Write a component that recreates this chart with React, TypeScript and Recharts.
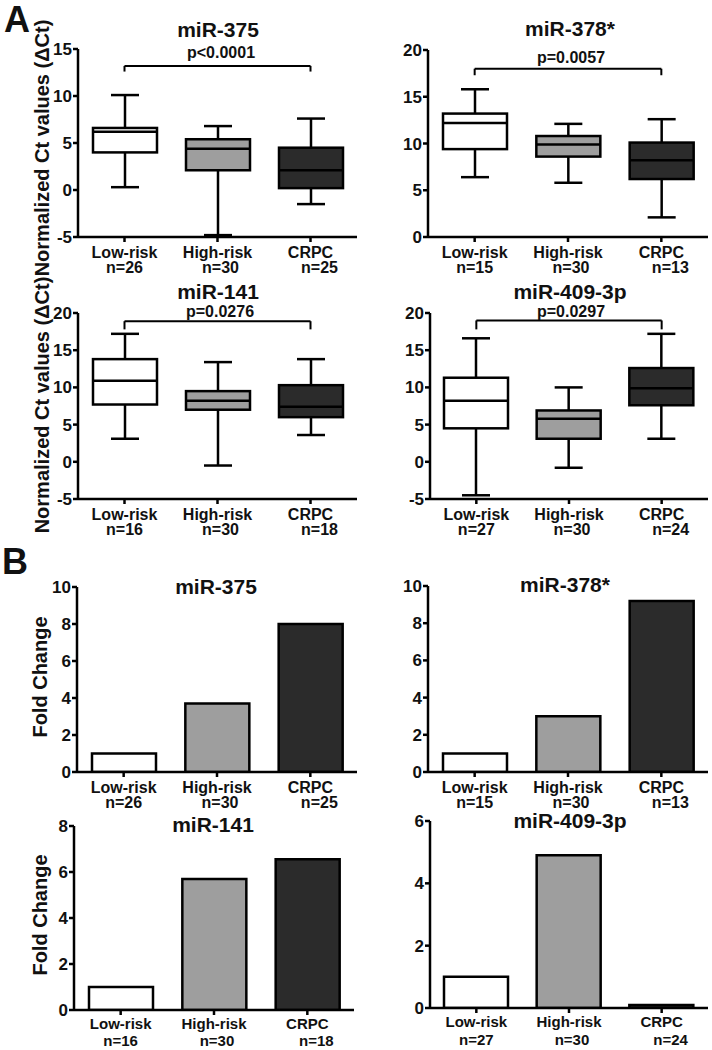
import React from 'react';
import { ComposedChart, BarChart, Bar, XAxis, YAxis, ReferenceLine, Cell } from 'recharts';

const categories = ['Low-risk', 'High-risk', 'CRPC'];
const fills = ['#ffffff', '#9e9e9e', '#2b2b2b'];

// Panel A: box plots (normalized Ct values)
const n375 = ['n=26', 'n=30', 'n=25'];
const min375 = [0.3, -4.8, -1.5];
const q1375 = [4.0, 2.1, 0.2];
const med375 = [6.2, 4.4, 2.1];
const q3375 = [6.6, 5.4, 4.5];
const max375 = [10.1, 6.8, 7.6];

const n378 = ['n=15', 'n=30', 'n=13'];
const min378 = [6.4, 5.8, 2.1];
const q1378 = [9.4, 8.6, 6.2];
const med378 = [12.2, 9.9, 8.2];
const q3378 = [13.2, 10.8, 10.1];
const max378 = [15.8, 12.1, 12.6];

const n141 = ['n=16', 'n=30', 'n=18'];
const min141 = [3.1, -0.5, 3.6];
const q1141 = [7.7, 7.0, 6.0];
const med141 = [10.9, 8.2, 7.4];
const q3141 = [13.8, 9.5, 10.3];
const max141 = [17.2, 13.4, 13.8];

const n409 = ['n=27', 'n=30', 'n=24'];
const min409 = [-4.5, -0.8, 3.1];
const q1409 = [4.5, 3.1, 7.6];
const med409 = [8.2, 5.8, 9.9];
const q3409 = [11.3, 6.9, 12.6];
const max409 = [16.6, 10.0, 17.2];

// Panel B: fold change bars
const fold375 = [1.0, 3.7, 8.0];
const fold378 = [1.0, 3.0, 9.2];
const fold141 = [1.0, 5.7, 6.55];
const fold409 = [1.0, 4.9, 0.1];

const FONT = '"Liberation Sans", Arial, sans-serif';

const buildBox = (mn: number[], q1: number[], md: number[], q3: number[], mx: number[]) =>
  categories.map((c, i) => ({
    cat: c,
    min: mn[i],
    q1: q1[i],
    median: md[i],
    q3: q3[i],
    max: mx[i],
    range: [mn[i], mx[i]],
    fill: fills[i],
  }));

const buildBars = (vals: number[]) => categories.map((c, i) => ({ cat: c, fold: vals[i] }));

const BoxShape = (props: any) => {
  const { x, y, width, height, payload } = props;
  if (!payload) return null;
  const top = Math.min(y, y + height);
  const bottom = Math.max(y, y + height);
  const span = payload.max - payload.min;
  const Y = (v: number) => bottom - ((v - payload.min) / span) * (bottom - top);
  const cx = x + width / 2;
  const cap = 28;
  const sw = 2.5;
  return (
    <g>
      <line x1={cx} x2={cx} y1={Y(payload.max)} y2={Y(payload.q3)} stroke="#000" strokeWidth={sw} />
      <line x1={cx} x2={cx} y1={Y(payload.q1)} y2={Y(payload.min)} stroke="#000" strokeWidth={sw} />
      <line x1={cx - cap / 2} x2={cx + cap / 2} y1={Y(payload.max)} y2={Y(payload.max)} stroke="#000" strokeWidth={sw} />
      <line x1={cx - cap / 2} x2={cx + cap / 2} y1={Y(payload.min)} y2={Y(payload.min)} stroke="#000" strokeWidth={sw} />
      <rect x={x} y={Y(payload.q3)} width={width} height={Y(payload.q1) - Y(payload.q3)} fill={payload.fill} stroke="#000" strokeWidth={sw} />
      <line x1={x} x2={x + width} y1={Y(payload.median)} y2={Y(payload.median)} stroke="#000" strokeWidth={sw} />
    </g>
  );
};

const makeTick = (nLabels: string[], first: number, second: number, size: number) => (props: any) => {
  const { x, y, payload } = props;
  const idx = props.index ?? payload?.index ?? 0;
  return (
    <g>
      <text x={x} y={y + first} textAnchor="middle" dominantBaseline="central" fontFamily={FONT} fontWeight="bold" fontSize={size} fill="#111">
        {payload.value}
      </text>
      <text x={x + (idx === 2 ? 9 : idx === 1 ? 3 : 0)} y={y + second} textAnchor="middle" dominantBaseline="central" fontFamily={FONT} fontWeight="bold" fontSize={size} fill="#111">
        {nLabels[idx]}
      </text>
    </g>
  );
};

const yTickStyle = { fontFamily: FONT, fontWeight: 'bold', fontSize: 17, fill: '#111' } as any;
const axisLine = { stroke: '#000', strokeWidth: 2.5 };

type Frame = { left: number; plotLeft: number; plotRight: number; plotTop: number; plotBottom: number; xh?: number };

const frameStyle = (f: Frame) => {
  const top = f.plotTop - 10;
  const xh = f.xh ?? 40;
  return {
    style: { position: 'absolute' as const, left: f.left, top },
    width: f.plotRight - f.left + 4,
    height: f.plotBottom - top + xh,
    xh,
    margin: { top: 10, right: 4, bottom: 0, left: 0 },
    yWidth: f.plotLeft - f.left,
  };
};

const BoxPanel = (p: { f: Frame; data: any[]; domain: [number, number]; ticks: number[]; n: string[]; bracketY: number; dropY: number }) => {
  const fs = frameStyle(p.f);
  return (
    <div style={fs.style}>
      <ComposedChart width={fs.width} height={fs.height} data={p.data} margin={fs.margin} style={{ overflow: 'visible' }}>
        <XAxis dataKey="cat" axisLine={axisLine} tickLine={axisLine} tickSize={5} height={fs.xh} interval={0} tick={makeTick(p.n, 8.5, 23.5, 16)} />
        <YAxis type="number" domain={p.domain} ticks={p.ticks} interval={0} width={fs.yWidth} axisLine={axisLine} tickLine={axisLine} tickSize={5} tickMargin={1} tick={yTickStyle} allowDataOverflow />
        <Bar dataKey="range" barSize={64} shape={(sp: any) => <BoxShape {...sp} />} isAnimationActive={false} />
        <ReferenceLine segment={[{ x: categories[0], y: p.bracketY }, { x: categories[2], y: p.bracketY }]} stroke="#000" strokeWidth={2} ifOverflow="visible" />
        <ReferenceLine segment={[{ x: categories[0], y: p.bracketY }, { x: categories[0], y: p.dropY }]} stroke="#000" strokeWidth={2} ifOverflow="visible" />
        <ReferenceLine segment={[{ x: categories[2], y: p.bracketY }, { x: categories[2], y: p.dropY }]} stroke="#000" strokeWidth={2} ifOverflow="visible" />
      </ComposedChart>
    </div>
  );
};

const BarPanel = (p: { f: Frame; data: any[]; domain: [number, number]; ticks: number[]; n: string[]; first?: number; second?: number; size?: number }) => {
  const fs = frameStyle(p.f);
  return (
    <div style={fs.style}>
      <BarChart width={fs.width} height={fs.height} data={p.data} margin={fs.margin} style={{ overflow: 'visible' }}>
        <XAxis dataKey="cat" axisLine={axisLine} tickLine={axisLine} tickSize={5} height={fs.xh} interval={0} tick={makeTick(p.n, p.first ?? 8.5, p.second ?? 23.5, p.size ?? 16)} />
        <YAxis type="number" domain={p.domain} ticks={p.ticks} interval={0} width={fs.yWidth} axisLine={axisLine} tickLine={axisLine} tickSize={5} tickMargin={1} tick={yTickStyle} allowDataOverflow />
        <Bar dataKey="fold" barSize={64} stroke="#000" strokeWidth={2.5} isAnimationActive={false}>
          {p.data.map((_, i) => (
            <Cell key={i} fill={fills[i]} />
          ))}
        </Bar>
      </BarChart>
    </div>
  );
};

const Txt = (p: { cx: number; cy: number; size: number; text: string; rotate?: boolean; lh?: number }) => {
  const w = 320;
  const h = p.size * (p.lh ?? 1.4);
  return (
    <div
      style={{
        position: 'absolute',
        left: p.cx - w / 2,
        top: p.cy - h / 2,
        width: w,
        height: h,
        lineHeight: `${h}px`,
        textAlign: 'center',
        fontSize: p.size,
        fontWeight: 'bold',
        fontFamily: FONT,
        color: '#111',
        whiteSpace: 'nowrap',
        transform: p.rotate ? 'rotate(-90deg)' : undefined,
        pointerEvents: 'none',
      }}
    >
      {p.text}
    </div>
  );
};

export default function App() {
  return (
    <div style={{ position: 'absolute', left: 0, top: 0, width: 712, height: 1050, background: '#fff', overflow: 'hidden' }}>
      <BoxPanel f={{ left: 0, plotLeft: 78, plotRight: 357, plotTop: 49, plotBottom: 237 }} data={buildBox(min375, q1375, med375, q3375, max375)} domain={[-5, 15]} ticks={[-5, 0, 5, 10, 15]} n={n375} bracketY={13.2} dropY={12.6} />
      <BoxPanel f={{ left: 360, plotLeft: 428, plotRight: 708, plotTop: 50, plotBottom: 237 }} data={buildBox(min378, q1378, med378, q3378, max378)} domain={[0, 20]} ticks={[0, 5, 10, 15, 20]} n={n378} bracketY={18.0} dropY={17.3} />
      <BoxPanel f={{ left: 0, plotLeft: 78, plotRight: 357, plotTop: 313, plotBottom: 499 }} data={buildBox(min141, q1141, med141, q3141, max141)} domain={[-5, 20]} ticks={[-5, 0, 5, 10, 15, 20]} n={n141} bracketY={18.9} dropY={17.8} />
      <BoxPanel f={{ left: 360, plotLeft: 430, plotRight: 708, plotTop: 313, plotBottom: 499 }} data={buildBox(min409, q1409, med409, q3409, max409)} domain={[-5, 20]} ticks={[-5, 0, 5, 10, 15, 20]} n={n409} bracketY={19.0} dropY={17.8} />

      <BarPanel f={{ left: 0, plotLeft: 77, plotRight: 357, plotTop: 587, plotBottom: 772 }} data={buildBars(fold375)} domain={[0, 10]} ticks={[0, 2, 4, 6, 8, 10]} n={n375} />
      <BarPanel f={{ left: 360, plotLeft: 428, plotRight: 708, plotTop: 586, plotBottom: 772 }} data={buildBars(fold378)} domain={[0, 10]} ticks={[0, 2, 4, 6, 8, 10]} n={n378} />
      <BarPanel f={{ left: 0, plotLeft: 74, plotRight: 354, plotTop: 826, plotBottom: 1010, xh: 40 }} data={buildBars(fold141)} domain={[0, 8]} ticks={[0, 2, 4, 6, 8]} n={n141} first={6} second={23.5} size={15} />
      <BarPanel f={{ left: 360, plotLeft: 430, plotRight: 708, plotTop: 821, plotBottom: 1008, xh: 42 }} data={buildBars(fold409)} domain={[0, 6]} ticks={[0, 2, 4, 6]} n={n409} first={6.5} second={24} size={15} />

      <Txt cx={17} cy={20} size={36} lh={1.0} text="A" />
      <Txt cx={15} cy={562} size={36} lh={1.0} text="B" />

      <Txt cx={218} cy={30} size={21} text="miR-375" />
      <Txt cx={221} cy={53} size={16} text="p<0.0001" />
      <Txt cx={570} cy={29} size={21} text="miR-378*" />
      <Txt cx={571} cy={58} size={16} text="p=0.0057" />
      <Txt cx={218} cy={292} size={21} text="miR-141" />
      <Txt cx={220} cy={312} size={16} text="p=0.0276" />
      <Txt cx={570} cy={292} size={21} text="miR-409-3p" />
      <Txt cx={571} cy={312} size={16} text="p=0.0297" />

      <Txt cx={216} cy={587} size={21} text="miR-375" />
      <Txt cx={565} cy={585} size={21} text="miR-378*" />
      <Txt cx={213} cy={825} size={21} text="miR-141" />
      <Txt cx={570} cy={821} size={21} text="miR-409-3p" />

      <Txt cx={42} cy={148} size={20} text="Normalized Ct values (ΔCt)" rotate />
      <Txt cx={42} cy={405} size={20} text="Normalized Ct values (ΔCt)" rotate />
      <Txt cx={40} cy={677} size={20} text="Fold Change" rotate />
      <Txt cx={40} cy={915} size={20} text="Fold Change" rotate />
    </div>
  );
}
